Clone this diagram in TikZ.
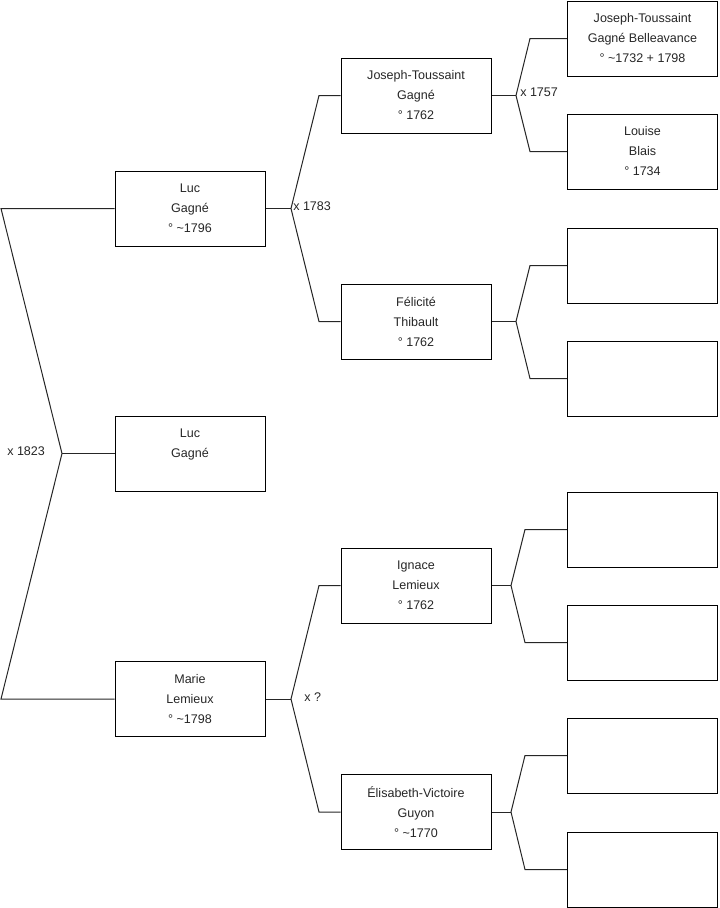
\documentclass[tikz,border=0pt]{standalone}
\usepackage{fontspec}
\setmainfont{Liberation Sans}
\begin{document}
\begin{tikzpicture}[x=0.75pt,y=-0.75pt,
  person/.style={draw=black,line width=0.75pt,minimum width=112.5pt,minimum height=56.25pt,inner sep=0pt,align=center,font=\fontsize{9.4}{15}\selectfont,text=black!85},
  link/.style={draw=black!85,line width=0.75pt},
  marr/.style={anchor=west,inner sep=0pt,font=\fontsize{9.4}{11}\selectfont,text=black!85}]
\useasboundingbox (0,0) rectangle (719,908);
% generation 1
\node[person] (g1a) at (190,208.5) {Luc\\Gagné\\° \textasciitilde1796};
\node[person] (g1b) at (190,453.5) {Luc\\Gagné\\\mbox{}};
\node[person] (g1c) at (190,699) {Marie\\Lemieux\\° \textasciitilde1798};
% generation 2
\node[person] (g2a) at (416,95.5) {Joseph-Toussaint\\Gagné\\° 1762};
\node[person] (g2b) at (416,321.5) {Félicité\\Thibault\\° 1762};
\node[person] (g2c) at (416,585.5) {Ignace\\Lemieux\\° 1762};
\node[person] (g2d) at (416,812) {Élisabeth-Victoire\\Guyon\\° \textasciitilde1770};
% generation 3
\node[person] (g3a) at (642.5,38.5) {Joseph-Toussaint\\Gagné Belleavance\\° \textasciitilde1732 + 1798};
\node[person] (g3b) at (642.5,151.5) {Louise\\Blais\\° 1734};
\node[person] (g3c) at (642.5,265.5) {};
\node[person] (g3d) at (642.5,378.5) {};
\node[person] (g3e) at (642.5,529.5) {};
\node[person] (g3f) at (642.5,642.5) {};
\node[person] (g3g) at (642.5,755.5) {};
\node[person] (g3h) at (642.5,869.5) {};
% fork points
\coordinate (f0) at (62,453.5);
\coordinate (a0) at (1,208.5);
\coordinate (b0) at (1,699);
\coordinate (f1) at (291,208.5);
\coordinate (a1) at (319,95.5);
\coordinate (b1) at (319,321.5);
\coordinate (f2) at (291,699);
\coordinate (a2) at (319,585.5);
\coordinate (b2) at (319,812);
\coordinate (f3) at (516,95.5);
\coordinate (a3) at (530,38.5);
\coordinate (b3) at (530,151.5);
\coordinate (f4) at (516,321.5);
\coordinate (a4) at (530,265.5);
\coordinate (b4) at (530,378.5);
\coordinate (f5) at (511,585.5);
\coordinate (a5) at (525,529.5);
\coordinate (b5) at (525,642.5);
\coordinate (f6) at (511,812);
\coordinate (a6) at (525,755.5);
\coordinate (b6) at (525,869.5);
% connectors
\draw[link] (g1a.west) -- (a0) -- (f0) -- (b0) -- (g1c.west);
\draw[link] (f0) -- (g1b.west);
\draw[link] (g1a.east) -- (f1);
\draw[link] (g2a.west) -- (a1) -- (f1) -- (b1) -- (g2b.west);
\draw[link] (g1c.east) -- (f2);
\draw[link] (g2c.west) -- (a2) -- (f2) -- (b2) -- (g2d.west);
\draw[link] (g2a.east) -- (f3);
\draw[link] (g3a.west) -- (a3) -- (f3) -- (b3) -- (g3b.west);
\draw[link] (g2b.east) -- (f4);
\draw[link] (g3c.west) -- (a4) -- (f4) -- (b4) -- (g3d.west);
\draw[link] (g2c.east) -- (f5);
\draw[link] (g3e.west) -- (a5) -- (f5) -- (b5) -- (g3f.west);
\draw[link] (g2d.east) -- (f6);
\draw[link] (g3g.west) -- (a6) -- (f6) -- (b6) -- (g3h.west);
% marriage labels
\node[marr] (m0) at (7,451.5) {x 1823};
\node[marr] (m1) at (293,206.5) {x 1783};
\node[marr] (m2) at (304,697.5) {x ?};
\node[marr] (m3) at (520,92.5) {x 1757};
\end{tikzpicture}
\end{document}
